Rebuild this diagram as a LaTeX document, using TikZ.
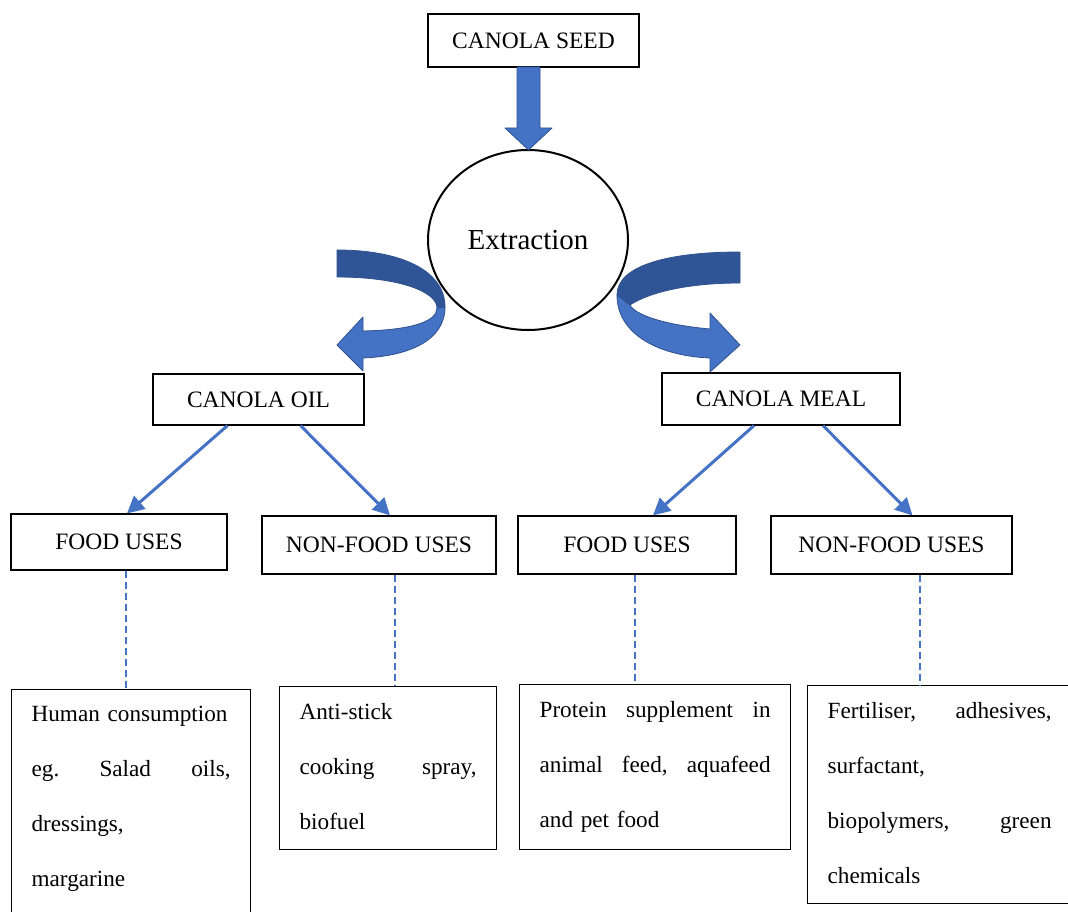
\documentclass[tikz,border=0pt]{standalone}
\usepackage{fontspec}
\setmainfont{Liberation Serif}
\usetikzlibrary{arrows.meta,shapes.geometric}
\definecolor{officeblue}{HTML}{4472C4}
\definecolor{officedark}{HTML}{2F5597}
\definecolor{officeedge}{HTML}{2F528F}

\tikzset{
  labelbox/.style={draw=black, line width=1.2pt, fill=white, inner sep=0pt, font=\fontsize{23.5}{28}\selectfont},
  usebox/.style={draw=black, line width=1.2pt, anchor=north west, inner xsep=20pt, inner ysep=17pt, align=left, font=\fontsize{23.2}{55}\selectfont},
  bluearrow/.style={draw=officeblue, line width=3pt, -{Triangle[length=17pt,width=17pt]}},
  dashline/.style={draw=officeblue, line width=1.5pt, dash pattern=on 7pt off 4pt},
  fatlight/.style={fill=officeblue, draw=officeedge, line width=0.8pt, line join=round},
  fatdark/.style={fill=officedark, draw=officeedge, line width=0.8pt, line join=round}
}

\begin{document}
\begin{tikzpicture}[x=1pt,y=-1pt]
        \useasboundingbox[fill=white] (0,0) rectangle (1068,912);

        %%TOP
        % Canola seed
        \node[labelbox, minimum width=211pt, minimum height=53pt] (seed) at (533.5,40.5) {CANOLA SEED};
        
        % Extraction
        \node[draw=black, line width=2pt, fill=white, ellipse, minimum width=200pt, minimum height=180pt, inner sep=0pt, font=\fontsize{29}{34}\selectfont] (extract) at (528,240) {Extraction};
        
        % Down arrow
        \filldraw[fatlight] (517,67) -- (540,67) -- (540,128) -- (552,128) -- (528.5,150) -- (505,128) -- (517,128) -- cycle;
        
        % Curved arrow to oil
        \filldraw[fatdark] (337,250) .. controls (400,250) and (445,270) .. (445,307) -- (437,308) .. controls (437,292) and (400,277) .. (337,277) -- cycle;
        \filldraw[fatlight] (445,307) .. controls (445,340) and (410,356) .. (363,358) -- (363,371) -- (337,345) -- (363,317) -- (363,331) .. controls (410,330) and (437,322) .. (437,308) -- cycle;
        
        % Curved arrow to meal
        \filldraw[fatdark] (740,252) .. controls (670,252) and (617,265) .. (617,295) -- (630,305) .. controls (645,295) and (680,283) .. (740,283) -- cycle;
        \filldraw[fatlight] (617,295) .. controls (617,335) and (660,356) .. (710,358) -- (710,372) -- (740,345) -- (710,313) -- (710,329) .. controls (665,325) and (635,315) .. (630,305) -- cycle;
        
        %%PRODUCTS
        \node[labelbox, minimum width=211pt, minimum height=51pt] (oil) at (258.5,399.5) {CANOLA OIL};
        \node[labelbox, minimum width=238pt, minimum height=52pt] (meal) at (781,399) {CANOLA MEAL};
        
        %%USES
        \node[labelbox, minimum width=216pt, minimum height=56pt] (oilfood) at (119,542) {FOOD USES};
        \node[labelbox, minimum width=234pt, minimum height=58pt] (oilnonfood) at (379,545) {NON-FOOD USES};
        \node[labelbox, minimum width=218pt, minimum height=58pt] (mealfood) at (627,545) {FOOD USES};
        \node[labelbox, minimum width=241pt, minimum height=58pt] (mealnonfood) at (891.5,545) {NON-FOOD USES};
        
        % Arrows
        \draw[bluearrow] ([xshift=-31pt]oil.south) -- ([xshift=8pt]oilfood.north);
        \draw[bluearrow] ([xshift=42pt]oil.south) -- ([xshift=11pt]oilnonfood.north);
        \draw[bluearrow] ([xshift=-27pt]meal.south) -- ([xshift=26pt]mealfood.north);
        \draw[bluearrow] ([xshift=42pt]meal.south) -- ([xshift=21pt]mealnonfood.north);
        
        %%EXAMPLES
        \node[usebox, text width=199pt] (oiluse) at (11,689) {Human consumption\\ eg.\hfill Salad\hfill oils,\\ dressings,\\ margarine\rule[-40pt]{0pt}{40pt}};
        \node[usebox, text width=177pt] (oilnonuse) at (279,686) {Anti-stick\\ cooking\hfill spray,\\ biofuel\rule[-3pt]{0pt}{3pt}};
        \node[usebox, text width=231pt] (mealuse) at (519,684) {Protein\hfill supplement\hfill in\\ animal\hfill feed,\hfill aquafeed\\ and pet food};
        \node[usebox, text width=224pt] (mealnonuse) at (807,685) {Fertiliser,\hfill adhesives,\\ surfactant,\\ biopolymers,\hfill green\\ chemicals\rule[-3pt]{0pt}{3pt}};
        
        % Dashed links
        \draw[dashline] ([xshift=7pt]oilfood.south) -- ([xshift=7pt]oilfood.south |- oiluse.north);
        \draw[dashline] ([xshift=16pt]oilnonfood.south) -- ([xshift=16pt]oilnonfood.south |- oilnonuse.north);
        \draw[dashline] ([xshift=8pt]mealfood.south) -- ([xshift=8pt]mealfood.south |- mealuse.north);
        \draw[dashline] ([xshift=28.5pt]mealnonfood.south) -- ([xshift=28.5pt]mealnonfood.south |- mealnonuse.north);
          
    \end{tikzpicture}
\end{document}
